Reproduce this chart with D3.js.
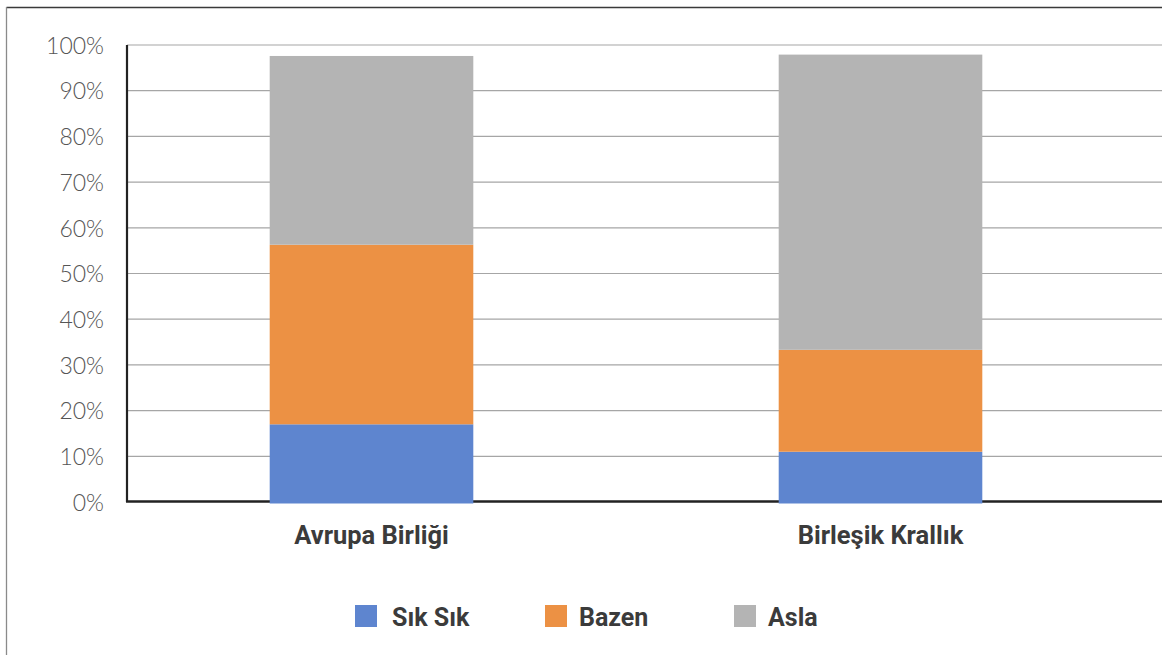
<!DOCTYPE html>
<html>
<head>
<meta charset="utf-8">
<script src="https://cdn.jsdelivr.net/npm/d3@7"></script>
<style>
  html, body { margin: 0; padding: 0; background: #fff; }
  svg { display: block; }
</style>
</head>
<body>
<svg id="chart" width="1162" height="655"></svg>
<script>
// ---- data ----
const categories = ["Avrupa Birliği", "Birleşik Krallık"];
const seriesNames = ["Sık Sık", "Bazen", "Asla"];
const sikSik = [17, 11];
const bazen = [39.3, 22.3];
const asla = [41.3, 64.6];
const yTicks = [0, 10, 20, 30, 40, 50, 60, 70, 80, 90, 100];
const colors = ["#5e85cf", "#ec9144", "#b4b4b4"];

// ---- layout ----
const W = 1162, H = 655;
const svg = d3.select("#chart");

const x = d3.scaleBand().domain(categories).range([117, 1135])
  .paddingInner(0.6).paddingOuter(0.3);
const y = d3.scaleLinear().domain([0, 100]).range([502, 45]);
const color = d3.scaleOrdinal().domain(seriesNames).range(colors);

// frame
svg.append("line").attr("x1", 6.5).attr("x2", W).attr("y1", 7.5).attr("y2", 7.5)
  .attr("stroke", "#3a3a3a").attr("stroke-width", 1.3);
svg.append("line").attr("x1", 6.5).attr("x2", 6.5).attr("y1", 7).attr("y2", H)
  .attr("stroke", "#8a8a8a").attr("stroke-width", 1.3);

// gridlines
svg.append("g").selectAll("line").data(yTicks.filter(d => d > 0)).join("line")
  .attr("x1", 127).attr("x2", W)
  .attr("y1", d => y(d)).attr("y2", d => y(d))
  .attr("stroke", "#a6a6a6").attr("stroke-width", 1.2);

// y axis labels
const yAxis = d3.axisLeft(y).tickValues(yTicks).tickFormat(d => d + "%").tickSize(0).tickPadding(0);
const gy = svg.append("g").attr("transform", "translate(104,0)").call(yAxis);
gy.select(".domain").remove();
gy.selectAll("text")
  .attr("font-family", "Lato, 'Open Sans', sans-serif")
  .attr("font-weight", 300)
  .attr("font-size", 23)
  .attr("fill", "#555")
  .attr("dy", "0.36em");

// axis lines
svg.append("line").attr("x1", 127).attr("x2", 127).attr("y1", y(100)).attr("y2", y(0))
  .attr("stroke", "#222").attr("stroke-width", 2.2);
svg.append("line").attr("x1", 126).attr("x2", W).attr("y1", y(0) - 0.5).attr("y2", y(0) - 0.5)
  .attr("stroke", "#222").attr("stroke-width", 2.4);

// stacked bars
const table = categories.map((c, i) => ({ cat: c, "Sık Sık": sikSik[i], "Bazen": bazen[i], "Asla": asla[i] }));
const stacked = d3.stack().keys(seriesNames)(table);

svg.append("g").selectAll("g").data(stacked).join("g")
  .attr("fill", d => color(d.key))
  .selectAll("rect").data(d => d).join("rect")
  .attr("x", d => x(d.data.cat))
  .attr("width", x.bandwidth())
  .attr("y", d => y(d[1]))
  .attr("height", d => y(d[0]) - y(d[1]) + (d[0] === 0 ? 1.5 : 0));

// category labels
svg.append("g").selectAll("text").data(categories).join("text")
  .attr("x", d => x(d) + x.bandwidth() / 2)
  .attr("y", 544)
  .attr("text-anchor", "middle")
  .attr("font-family", "Roboto, sans-serif")
  .attr("font-weight", 700)
  .attr("font-size", 25.5)
  .attr("fill", "#3b3b3b")
  .text(d => d);

// legend
const legendX = [355, 545, 734];
const lg = svg.append("g").selectAll("g").data(seriesNames).join("g")
  .attr("transform", (d, i) => `translate(${legendX[i]},605)`);
lg.append("rect").attr("width", 22).attr("height", 22).attr("fill", d => color(d));
lg.append("text").attr("x", (d, i) => i === 0 ? 37 : 34).attr("y", 21)
  .attr("font-family", "Roboto, sans-serif")
  .attr("font-weight", 700)
  .attr("font-size", 25)
  .attr("fill", "#3b3b3b")
  .text(d => d);
</script>
</body>
</html>
